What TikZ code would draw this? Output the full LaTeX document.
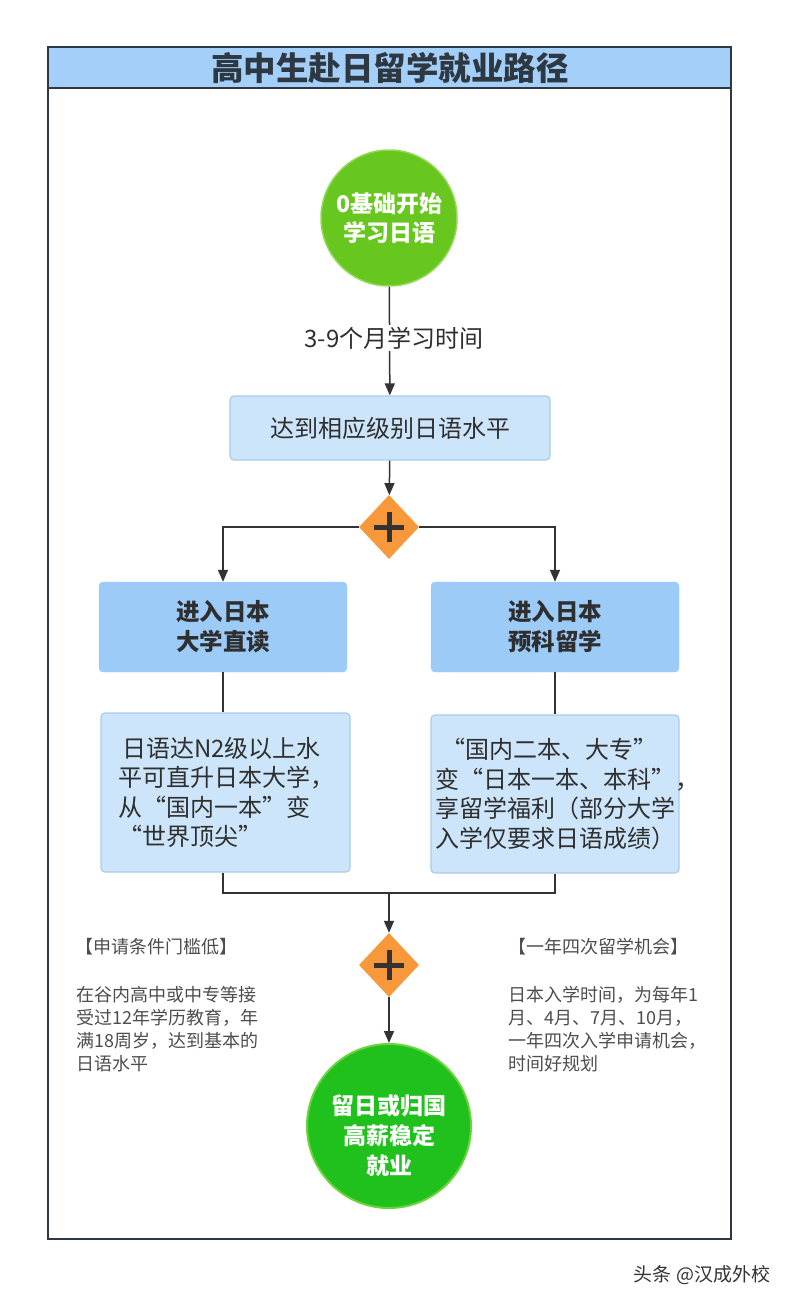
\documentclass[tikz,border=0pt]{standalone}
\usepackage{fontspec}
\setmainfont{Noto Sans CJK SC}
\usetikzlibrary{arrows.meta,shapes.geometric}
\definecolor{titleblue}{HTML}{A4CFF9}
\definecolor{framec}{HTML}{2D3843}
\definecolor{greenA}{HTML}{68C71F}
\definecolor{greenAe}{HTML}{93D957}
\definecolor{greenB}{HTML}{20C11C}
\definecolor{greenBe}{HTML}{6BD33B}
\definecolor{boxfill}{HTML}{CCE5FA}
\definecolor{boxedge}{HTML}{A8CCEA}
\definecolor{bluebox}{HTML}{9CCBF8}
\definecolor{orangec}{HTML}{F7983A}
\definecolor{darktext}{HTML}{2F2F2F}
\definecolor{linec}{HTML}{333333}
\definecolor{sidetext}{HTML}{4D4D4D}
\tikzset{
  conn/.style={draw=linec, line width=1.5pt},
  arr/.style={conn, -{Triangle[length=12pt,width=10pt]}},
  lightbox/.style={rectangle, rounded corners=4pt, fill=boxfill, draw=boxedge, line width=1.2pt, text=darktext},
  bluestep/.style={rectangle, rounded corners=4pt, fill=bluebox, draw=bluebox, minimum width=248pt, minimum height=90pt, text=darktext, align=center, font=\bfseries\fontsize{23.5}{30}\selectfont},
  gate/.style={diamond, fill=orangec, minimum width=60pt, minimum height=64pt, inner sep=0pt},
  plusbar/.style={draw=linec, line width=5pt},
  sidehead/.style={anchor=west, text=sidetext, font=\fontsize{18}{23}\selectfont, inner sep=0pt},
  sidebody/.style={anchor=north west, text=sidetext, font=\fontsize{18}{23}\selectfont, align=left, inner sep=0pt},
}
\begin{document}
\begin{tikzpicture}[x=1pt,y=-1pt]
\useasboundingbox (0,0) rectangle (793,1302);
% frame and title
\fill[titleblue] (48,47) rectangle (731,88);
\draw[framec, line width=2pt] (48,47) rectangle (731,1239);
\draw[framec, line width=2pt] (48,88) -- (731,88);
\node[text=framec, font=\bfseries\fontsize{32.5}{38}\selectfont] (title) at (390,68) {高中生赴日留学就业路径};
% start circle
\node[circle, minimum size=136pt, fill=greenA, draw=greenAe, line width=1.5pt, text=white, align=center, font=\bfseries\fontsize{23}{29}\selectfont] (start) at (389,218) {0基础开始\\学习日语};
% box 1
\node[lightbox, minimum width=320pt, minimum height=64pt, font=\fontsize{24}{30}\selectfont] (level) at (390,428) {达到相应级别日语水平};
\draw[arr] (start) -- (level);
\node[fill=white, text=darktext, font=\fontsize{24}{30}\selectfont, inner sep=2pt] (study) at (394,338) {3-9个月学习时间};
% diamond 1
\node[gate] (d1) at (389,527) {};
\draw[plusbar] ([xshift=-15pt]d1.center) -- ([xshift=15pt]d1.center);
\draw[plusbar] ([yshift=-15pt]d1.center) -- ([yshift=15pt]d1.center);
\draw[arr] (level) -- (d1);
% two branches
\node[bluestep] (lb) at (223,627) {进入日本\\大学直读};
\node[bluestep] (rb) at (555,627) {进入日本\\预科留学};
\draw[arr] (d1.west) -| (lb.north);
\draw[arr] (d1.east) -| (rb.north);
% text boxes
\node[lightbox, minimum width=249pt, minimum height=159pt, text width=215pt, inner xsep=17pt, align=left, font=\fontsize{24}{29.5}\selectfont] (lt) at (225.5,792.5) {\hspace*{4pt}日语达N2级以上水\\平可直升日本大学，\\从“国内一本”变\\“世界顶尖”};
\node[lightbox, minimum width=248pt, minimum height=158pt, text width=240pt, inner xsep=4pt, align=left, font=\fontsize{24}{29.5}\selectfont] (rt) at (555,794) {\hspace*{6pt}“国内二本、大专”\\变“日本一本、本科”，\\享留学福利（部分大学\\入学仅要求日语成绩）};
\draw[conn] (lb.south) -- (lb.south |- lt.north);
\draw[conn] (rb.south) -- (rb.south |- rt.north);
\coordinate (join) at (389,893);
\draw[conn] (lb.south |- lt.south) |- (join);
\draw[conn] (rb.south |- rt.south) |- (join);
% diamond 2
\node[gate] (d2) at (389,965) {};
\draw[plusbar] ([xshift=-15pt]d2.center) -- ([xshift=15pt]d2.center);
\draw[plusbar] ([yshift=-15pt]d2.center) -- ([yshift=15pt]d2.center);
\draw[arr] (join) -- (d2);
% end circle
\node[circle, minimum size=164pt, fill=greenB, draw=greenBe, line width=2pt] (end) at (389,1126) {};
\node[text=white, align=center, font=\bfseries\fontsize{23}{30}\selectfont] (endtext) at (389,1136) {留日或归国\\高薪稳定\\就业};
\draw[arr] (d2) -- (end);
% side notes
\node[sidehead] (lh) at (75,947) {【申请条件门槛低】};
\node[sidebody] (lbody) at (76,986) {在谷内高中或中专等接\\受过12年学历教育，年\\满18周岁，达到基本的\\日语水平};
\node[sidehead] (rh) at (508,947) {【一年四次留学机会】};
\node[sidebody] (rbody) at (508,986) {日本入学时间，为每年1\\月、4月、7月、10月，\\一年四次入学申请机会，\\时间好规划};
% watermark
\node[text=linec, font=\fontsize{19}{22}\selectfont] (mark) at (702,1275) {头条 @汉成外校};
\end{tikzpicture}
\end{document}
